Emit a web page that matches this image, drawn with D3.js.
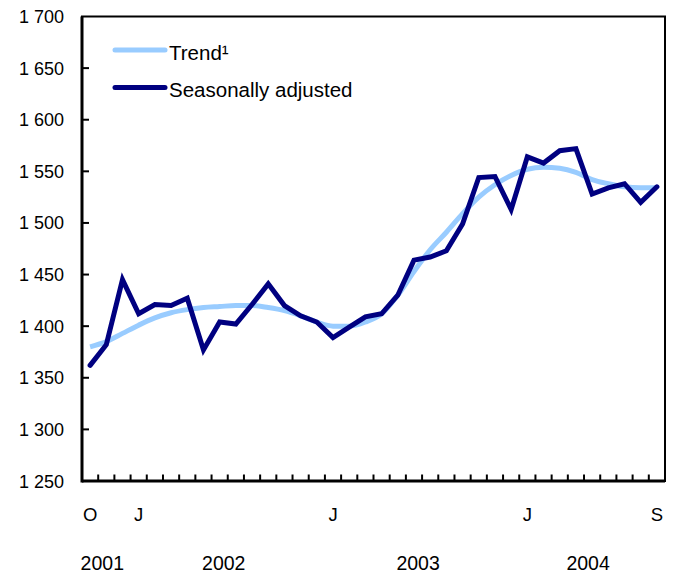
<!DOCTYPE html>
<meta charset="utf-8">
<head>
  <title>Trend and seasonally adjusted</title>
</head>
<style>
body {
  margin: 0;
  background: #fff;
  font-family: "Liberation Sans", Helvetica, Arial, sans-serif;
}
text { fill: #000; }
</style>
<body>
<svg width="678" height="575"></svg>

<script src="https://cdnjs.cloudflare.com/ajax/libs/d3/7.8.5/d3.min.js"></script>
<script>
  // monthly, Oct 2001 .. Sep 2004
  var months = ["O","N","D","J","F","M","A","M","J","J","A","S","O","N","D",
                "J","F","M","A","M","J","J","A","S","O","N","D",
                "J","F","M","A","M","J","J","A","S"];
  var seasonal = [1362, 1382, 1445, 1412, 1421, 1420, 1427, 1377, 1404, 1402, 1421, 1441,
                  1420, 1410, 1404, 1389, 1399, 1409, 1412, 1430, 1464, 1467, 1473, 1499,
                  1544, 1545, 1513, 1564, 1558, 1570, 1572, 1528, 1534, 1538, 1520, 1535];
  var trend = [1380, 1385, 1393, 1401, 1408, 1413, 1416, 1418, 1419, 1420, 1420, 1418,
               1415, 1410, 1404, 1400, 1400, 1404, 1412, 1430, 1453, 1474, 1491, 1509,
               1525, 1537, 1546, 1552, 1554, 1553, 1549, 1542, 1538, 1535, 1534, 1534];
  var labelIdx = [0, 3, 15, 27, 35];
  var years = ["2001", "2002", "2003", "2004"];
  var yearStart = [0, 3, 15, 27];   // first month index of each year
  var yTicks = [1250, 1300, 1350, 1400, 1450, 1500, 1550, 1600, 1650, 1700];

  var svg = d3.select("svg");
  var mLeft = 82, mRight = 665, mTop = 16.5, mBottom = 481;

  var x = d3.scaleBand().domain(d3.range(months.length)).range([mLeft, mRight]);
  var cx = function(i) { return x(i) + x.bandwidth() / 2; };
  var y = d3.scaleLinear().domain([1250, 1700]).range([mBottom, mTop]);

  // frame
  svg.append("rect")
    .attr("x", mLeft).attr("y", mTop)
    .attr("width", mRight - mLeft).attr("height", mBottom - mTop)
    .attr("fill", "none").attr("stroke", "#000").attr("stroke-width", 2);

  // y ticks + labels
  svg.selectAll(".ytick").data(yTicks.slice(1, -1)).enter().append("line")
    .attr("x1", mLeft).attr("x2", mLeft + 7)
    .attr("y1", d => y(d)).attr("y2", d => y(d))
    .attr("stroke", "#000").attr("stroke-width", 2);
  svg.selectAll(".ylab").data(yTicks).enter().append("text")
    .attr("x", mLeft - 18).attr("y", d => y(d) + 6.5)
    .attr("text-anchor", "end").attr("font-size", "18px")
    .text(d => d3.format(",")(d).replace(",", " "));

  // x ticks at month boundaries
  svg.selectAll(".xtick").data(d3.range(1, months.length)).enter().append("line")
    .attr("x1", d => x(d)).attr("x2", d => x(d))
    .attr("y1", mBottom).attr("y2", mBottom - 6.5)
    .attr("stroke", "#000").attr("stroke-width", 2);

  svg.selectAll(".mlab").data(labelIdx).enter().append("text")
    .attr("x", d => cx(d)).attr("y", 521)
    .attr("text-anchor", "middle").attr("font-size", "18.5px")
    .text(d => months[d]);

  svg.selectAll(".year").data(years).enter().append("text")
    .attr("x", (d, i) => {
      var a = yearStart[i], b = i + 1 < yearStart.length ? yearStart[i + 1] : months.length;
      return (x(a) + x(b - 1) + x.bandwidth()) / 2 - 4;
    })
    .attr("y", 569.5)
    .attr("text-anchor", "middle").attr("font-size", "19.5px")
    .text(d => d);

  // axes (thicker left and bottom)
  svg.append("line").attr("x1", mLeft).attr("x2", mLeft).attr("y1", mTop).attr("y2", mBottom + 1.5)
    .attr("stroke", "#000").attr("stroke-width", 3);
  svg.append("line").attr("x1", mLeft).attr("x2", mRight).attr("y1", mBottom).attr("y2", mBottom)
    .attr("stroke", "#000").attr("stroke-width", 3);

  // series
  var trendLine = d3.line().x((d, i) => cx(i)).y(d => y(d)).curve(d3.curveMonotoneX);
  var saLine = d3.line().x((d, i) => cx(i)).y(d => y(d));

  svg.append("path").datum(trend).attr("d", trendLine)
    .attr("fill", "none").attr("stroke", "#99CCFF").attr("stroke-width", 5);
  svg.append("path").datum(seasonal).attr("d", saLine)
    .attr("fill", "none").attr("stroke", "#000080").attr("stroke-width", 5)
    .attr("stroke-linejoin", "miter").attr("stroke-linecap", "round");

  // legend
  var legend = [
    {label: "Trend\u00B9", color: "#99CCFF", y: 50},
    {label: "Seasonally adjusted", color: "#000080", y: 87.5}
  ];
  var lg = svg.selectAll(".leg").data(legend).enter().append("g");
  lg.append("line")
    .attr("x1", 115).attr("x2", 165).attr("y1", d => d.y).attr("y2", d => d.y)
    .attr("stroke", d => d.color).attr("stroke-width", 5).attr("stroke-linecap", "round");
  lg.append("text")
    .attr("x", 169).attr("y", d => d.y + 9.5)
    .attr("font-size", "20.5px")
    .text(d => d.label);
</script>
</body>
</html>
